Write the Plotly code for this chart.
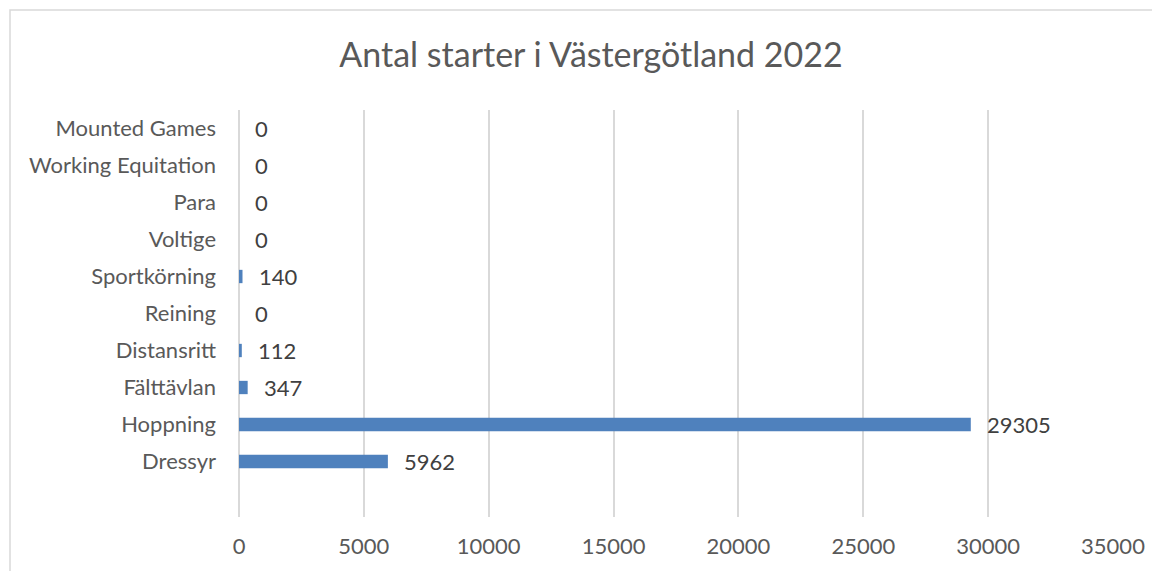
import plotly.graph_objects as go

categories = ["Dressyr", "Hoppning", "Fälttävlan", "Distansritt", "Reining",
              "Sportkörning", "Voltige", "Para", "Working Equitation", "Mounted Games"]
values = [5962, 29305, 347, 112, 0, 140, 0, 0, 0, 0]
x_ticks = [0, 5000, 10000, 15000, 20000, 25000, 30000, 35000]
title = "Antal starter i Västergötland 2022"

FONT = "Lato, Open Sans, sans-serif"
GRAY = "#595959"

# page body has an 8px margin; compensate so the visible layout matches
OFF = 8
W, H = 1160, 571
L, T = 239 - OFF, 110 - OFF
R = W - (1113 - OFF)
B = H - (517 - OFF)
pw, ph = W - L - R, H - T - B

fig = go.Figure()
fig.add_trace(go.Bar(
    y=categories, x=values, orientation="h",
    marker=dict(color="#4F81BD", line=dict(width=0)),
    width=0.36,
))

annotations = [
    dict(x=v, y=c, xref="x", yref="y", text=str(v), showarrow=False,
         xanchor="left", yanchor="middle", xshift=14,
         font=dict(family=FONT, size=22, color="#404040"))
    for c, v in zip(categories, values)
]

fig.update_layout(
    width=W, height=H,
    margin=dict(l=L, r=R, t=T, b=B, autoexpand=False),
    paper_bgcolor="white", plot_bgcolor="white",
    showlegend=False,
    annotations=annotations,
    title=dict(text=title, x=(591 - OFF) / W, xref="container", xanchor="center",
               y=1 - (55 - OFF) / H, yanchor="middle",
               font=dict(family=FONT, size=34, color=GRAY)),
    xaxis=dict(range=[0, 35000], tickvals=x_ticks, ticktext=[str(t) for t in x_ticks],
               showgrid=True, gridcolor="#D9D9D9", gridwidth=2,
               zeroline=True, zerolinecolor="#D9D9D9", zerolinewidth=2,
               showline=False, ticks="", automargin=False,
               tickfont=dict(family=FONT, size=22, color=GRAY), ticklabelstandoff=14),
    yaxis=dict(type="category", categoryorder="array", categoryarray=categories,
               range=[-1.5, 9.5], showgrid=False, zeroline=False, showline=False,
               ticks="", automargin=False, tickfont=dict(family=FONT, size=22, color=GRAY),
               ticklabelstandoff=22),
    shapes=[dict(type="rect", xref="paper", yref="paper",
                 x0=(10 - OFF - L) / pw, x1=1.2, y0=-0.3, y1=1 + (T - (10 - OFF)) / ph,
                 line=dict(color="#D9D9D9", width=1.5), fillcolor="rgba(0,0,0,0)", layer="below")],
)

fig.write_html("out.html")
